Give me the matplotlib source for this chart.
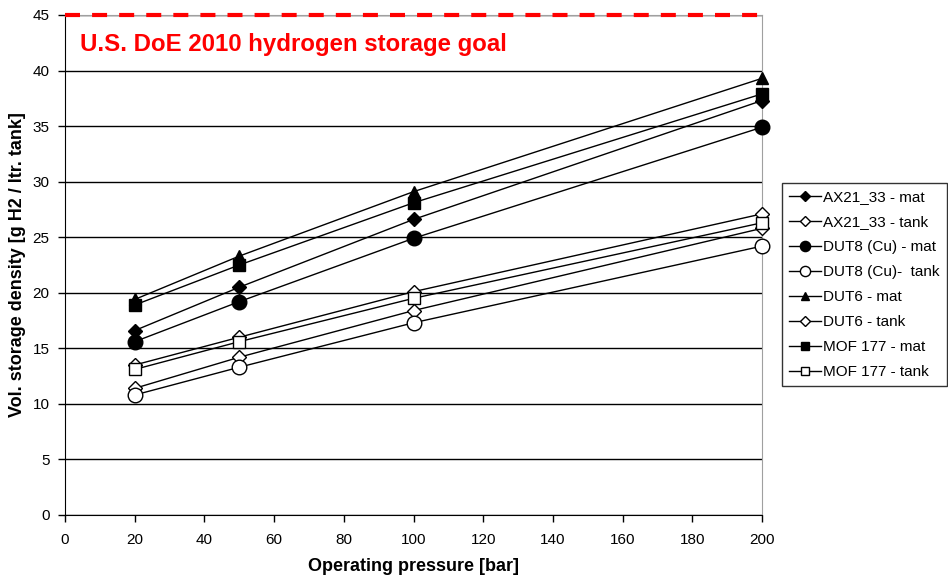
import matplotlib.pyplot as plt

plt.rcParams['font.family'] = ['Liberation Sans', 'DejaVu Sans']

pressure = [20, 50, 100, 200]

ax21_mat = [16.6, 20.5, 26.6, 37.3]
ax21_tank = [11.4, 14.2, 18.4, 25.8]
dut8_mat = [15.6, 19.2, 24.9, 34.9]
dut8_tank = [10.8, 13.3, 17.3, 24.2]
dut6_mat = [19.4, 23.3, 29.1, 39.3]
dut6_tank = [13.5, 16.0, 20.1, 27.1]
mof177_mat = [18.9, 22.5, 28.1, 37.9]
mof177_tank = [13.1, 15.6, 19.5, 26.3]

doe_goal = 45

series = [
    ("AX21_33 - mat", ax21_mat, "D", "black", 7),
    ("AX21_33 - tank", ax21_tank, "D", "white", 7),
    ("DUT8 (Cu) - mat", dut8_mat, "o", "black", 10.5),
    ("DUT8 (Cu)-  tank", dut8_tank, "o", "white", 10.5),
    ("DUT6 - mat", dut6_mat, "^", "black", 9),
    ("DUT6 - tank", dut6_tank, "D", "white", 7),
    ("MOF 177 - mat", mof177_mat, "s", "black", 8),
    ("MOF 177 - tank", mof177_tank, "s", "white", 8),
]

fig = plt.figure(figsize=(9.48, 5.79), dpi=100)
ax = fig.add_axes([65 / 948, 1 - 515 / 579, (762 - 65) / 948, 500 / 579])

for label, vals, mk, fc, ms in series:
    ax.plot(pressure, vals, color="black", lw=1, marker=mk, ms=ms,
            markerfacecolor=fc, markeredgecolor="black", markeredgewidth=1,
            label=label, clip_on=False, zorder=3)

# DoE target line
ax.axhline(doe_goal, color="red", lw=3, ls=(0, (3.6, 2.9)), zorder=4, clip_on=False)
ax.text(4.3, 42.3, "U.S. DoE 2010 hydrogen storage goal", color="red",
        fontsize=17.3, fontweight="bold", va="center", ha="left")

ax.set_xlim(0, 200)
ax.set_ylim(0, 45)
ax.set_xticks(range(0, 201, 20))
ax.set_yticks(range(0, 46, 5))
ax.yaxis.grid(True, color="black", lw=1)
ax.set_axisbelow(True)
ax.tick_params(labelsize=11, direction="out", length=5, width=1)
ax.tick_params(axis="x", pad=8)
ax.tick_params(axis="y", pad=6)
ax.spines["right"].set_color("#a0a0a0")
ax.spines["top"].set_color("#a0a0a0")

ax.set_xlabel("Operating pressure [bar]", fontsize=13, fontweight="bold", labelpad=8)
ax.set_ylabel("Vol. storage density [g H2 / ltr. tank]", fontsize=13,
              fontweight="bold", labelpad=5)

leg = ax.legend(loc="upper left", bbox_to_anchor=(782 / 948, 1 - 183 / 579),
                bbox_transform=fig.transFigure, fontsize=11, frameon=True,
                fancybox=False, edgecolor="black", markerscale=0.7,
                handlelength=2.1, handletextpad=0.15, labelspacing=0.72,
                borderpad=0.45, borderaxespad=0)
leg.get_frame().set_linewidth(1)

plt.savefig("out.png", dpi=100)
